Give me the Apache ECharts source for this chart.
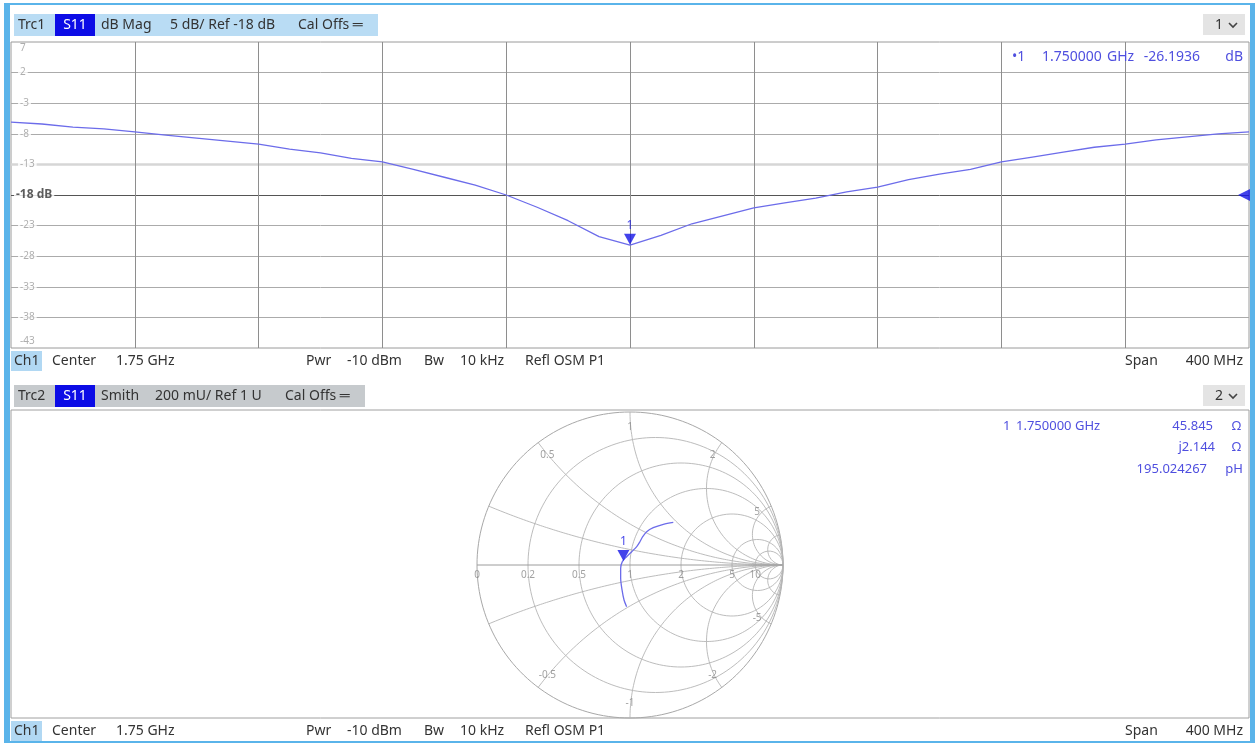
<!DOCTYPE html>
<html><head><meta charset="utf-8">
<script src="https://cdn.jsdelivr.net/npm/echarts@6/dist/echarts.min.js"></script>
<style>html,body{margin:0;padding:0;background:#fff}#c{width:1259px;height:746px}</style>
</head><body><div id="c"></div>
<script>
// ---- data ----
const freqMHz = [1550,1560,1570,1580,1590,1600,1610,1620,1630,1640,1650,1660,1670,1680,1690,1700,1710,1720,1730,1740,1750,1760,1770,1780,1790,1800,1810,1820,1830,1840,1850,1860,1870,1880,1890,1900,1910,1920,1930,1940,1950];
const s11dB = [-6.1,-6.4,-6.9,-7.2,-7.7,-8.2,-8.7,-9.2,-9.7,-10.5,-11.1,-12.0,-12.6,-13.8,-15.1,-16.4,-18.0,-20.0,-22.2,-24.8,-26.19,-24.6,-22.7,-21.4,-20.1,-19.3,-18.5,-17.5,-16.7,-15.5,-14.6,-13.8,-12.6,-11.8,-11.0,-10.2,-9.7,-9.0,-8.5,-8.0,-7.7];
const dbTicks = [7,2,-3,-8,-13,-18,-23,-28,-33,-38,-43];
const dbTickLabels = ['7','2','-3','-8','-13','-18 dB','-23','-28','-33','-38','-43'];
const refLevel = -18;
const freqGrid = [1590,1630,1670,1710,1750,1790,1830,1870,1910];
const markerFreq = 1750, markerDb = -26.1936;
// Smith trace, reflection coefficient (re, im)
const smithRe = [0.283,0.218,0.152,0.109,0.083,0.065,0.044,0.011,-0.022,-0.050,-0.061,-0.061,-0.052,-0.039,-0.022];
const smithIm = [0.279,0.266,0.244,0.218,0.185,0.152,0.120,0.087,0.054,0.022,-0.022,-0.087,-0.163,-0.229,-0.273];
const smithMarker = [-0.043, 0.023];
const rCircles = [0.2,0.5,1,2,5,10];
const xArcs = [0.2,0.5,1,2,5,10,-0.2,-0.5,-1,-2,-5,-10];
const rLabelVals = [0,0.2,0.5,1,2,5,10];
const rLabelTexts = ['0','0.2','0.5','1','2','5','10'];
const xLabelVals = [0.5,1,2,5,-0.5,-1,-2,-5];
const xLabelTexts = ['0.5','1','2','5','-0.5','-1','-2','-5'];

// ---- helpers ----
const FONT = '"Noto Sans", "Open Sans", sans-serif';
const TRACE = '#6c6cea';
const MARK = '#1414e6';
const READ = '#4f4fdf';
function gamma(r, x){ const d=(r+1)*(r+1)+x*x; return [(r*r-1+x*x)/d, 2*x/d]; }
function rCircle(r){ const c=r/(1+r), R=1/(1+r), p=[]; for(let i=0;i<=360;i+=2){const a=i*Math.PI/180; p.push([c+R*Math.cos(a), R*Math.sin(a)]);} return p; }
function xArc(x){ const p=[gamma(0,x)]; for(let k=-3;k<=3.0001;k+=0.02){p.push(gamma(Math.pow(10,k),x));} p.push([1,0]); return p; }

const series = [];
series.push({
  type:'line', xAxisIndex:0, yAxisIndex:0, name:'S11 dB',
  data: freqMHz.map((f,i)=>[f, s11dB[i]]),
  showSymbol:false, lineStyle:{color:TRACE, width:1.3}, z:5, animation:false,
  markLine:{silent:true, symbol:['none','none'], label:{show:false}, animation:false,
    data:[
      ...dbTicks.filter(v=>v!==dbTicks[0] && v!==dbTicks[dbTicks.length-1]).map(v=>({yAxis:v,
        lineStyle:{type:'solid', color: v===refLevel?'#555':(v===-13?'#d6d6d6':'#ababab'), width: v===-13?2.5:1}})),
      ...freqGrid.map(f=>({xAxis:f, lineStyle:{type:'solid', color:'#8e8e8e', width:1}}))
    ]}
});
series.push({
  type:'scatter', xAxisIndex:0, yAxisIndex:0, symbolSize:0, silent:true, z:6, animation:false,
  data: dbTicks.map((v,i)=>({value:[freqMHz[0], v],
    label:{offset:[v===refLevel?0:4, i===0?6:(i===dbTicks.length-1?-7:0)],
      color: v===refLevel?'#333':'#9a9a9a', fontSize: v===refLevel?12:10, fontWeight: v===refLevel?'bold':'normal'}})),
  label:{show:true, position:'right', distance:3, backgroundColor:'#fff', padding:[0,2],
    fontFamily:FONT, formatter:p=>dbTickLabels[p.dataIndex]}
});
series.push({
  type:'scatter', xAxisIndex:0, yAxisIndex:0, clip:false, z:7, animation:false,
  data:[[markerFreq, markerDb]], symbol:'triangle', symbolRotate:180, symbolSize:[12,11], symbolOffset:[0,-6],
  itemStyle:{color:MARK}, label:{show:true, position:'top', distance:2, formatter:'1', color:MARK, fontSize:12, fontFamily:FONT}
});
series.push({
  type:'scatter', xAxisIndex:0, yAxisIndex:0, clip:false, z:7, animation:false,
  data:[[freqMHz[freqMHz.length-1], refLevel]], symbol:'triangle', symbolRotate:90, symbolSize:[12,12], symbolOffset:[-5,0],
  itemStyle:{color:MARK}
});
// Smith grid
series.push({type:'line', xAxisIndex:1, yAxisIndex:1, data:rCircle(0), showSymbol:false, silent:true, clip:false, animation:false,
  lineStyle:{color:'#a8a8a8', width:1}, z:1});
rCircles.forEach(r=>series.push({type:'line', xAxisIndex:1, yAxisIndex:1, data:rCircle(r), showSymbol:false, silent:true, clip:false, animation:false,
  lineStyle:{color:'#b4b4b4', width:0.9}, z:1}));
xArcs.forEach(x=>series.push({type:'line', xAxisIndex:1, yAxisIndex:1, data:xArc(x), showSymbol:false, silent:true, clip:false, animation:false,
  lineStyle:{color:'#b4b4b4', width:0.9}, z:1}));
series.push({type:'line', xAxisIndex:1, yAxisIndex:1, data:[[-1,0],[1,0]], showSymbol:false, silent:true, clip:false, animation:false,
  lineStyle:{color:'#9c9c9c', width:1}, z:1});
series.push({type:'scatter', xAxisIndex:1, yAxisIndex:1, symbolSize:0, silent:true, animation:false, z:3,
  data:rLabelVals.map(r=>[(r-1)/(r+1), 0]),
  label:{show:true, position:'bottom', distance:5, color:'#8a8a8a', fontSize:10, fontFamily:FONT, formatter:p=>rLabelTexts[p.dataIndex]}});
series.push({type:'scatter', xAxisIndex:1, yAxisIndex:1, symbolSize:0, silent:true, animation:false, z:3,
  data:xLabelVals.map(x=>{const g=gamma(0,x); return [g[0]*0.9, g[1]*0.9];}),
  label:{show:true, position:'inside', color:'#8a8a8a', fontSize:10, fontFamily:FONT, formatter:p=>xLabelTexts[p.dataIndex]}});
series.push({type:'line', xAxisIndex:1, yAxisIndex:1, data:smithRe.map((v,i)=>[v, smithIm[i]]), showSymbol:false, smooth:0.3,
  lineStyle:{color:TRACE, width:1.3}, z:5, animation:false});
series.push({type:'scatter', xAxisIndex:1, yAxisIndex:1, clip:false, z:7, animation:false,
  data:[smithMarker], symbol:'triangle', symbolRotate:180, symbolSize:[12,11], symbolOffset:[0,-6],
  itemStyle:{color:MARK}, label:{show:true, position:'top', distance:2, formatter:'1', color:MARK, fontSize:12, fontFamily:FONT}});

// ---- chrome (headers, footers, readouts) ----
function txt(x,y,t,o){o=o||{}; return {type:'text', x:x, y:y, z:10, style:{text:t, fill:o.fill||'#333', font:(o.size||14)+'px '+FONT, textAlign:o.align||'left', textVerticalAlign:'middle'}};}
function rect(x,y,w,h,fill,z){return {type:'rect', z:z||0, shape:{x:x,y:y,width:w,height:h}, style:{fill:fill}};}
function chevron(x,y){return {type:'polyline', z:10, shape:{points:[[x,y-2],[x+4,y+2],[x+8,y-2]]}, style:{stroke:'#444', lineWidth:1.6, fill:null}};}
function footer(y){return [
  rect(11,y-10,31,20,'#b1d8f3'), txt(14,y,'Ch1'),
  txt(52,y,'Center'), txt(116,y,'1.75 GHz'),
  txt(306,y,'Pwr'), txt(347,y,'-10 dBm'), txt(424,y,'Bw'), txt(460,y,'10 kHz'), txt(525,y,'Refl OSM P1'),
  txt(1125,y,'Span'), txt(1243,y,'400 MHz',{align:'right'})
];}
const S = 13;
const graphic = [
  rect(4,3,1251,2,'#5ab4ea'), rect(4,3,6,740,'#5ab4ea'), rect(1250,3,5,740,'#5ab4ea'), rect(4,741,1251,2,'#5ab4ea'),
  rect(14,14,364,22,'#b9dcf4'), rect(55,14,40,22,'#0c0ce6',1),
  txt(18,25,'Trc1'), txt(75,25,'S11',{fill:'#fff',align:'center'}), txt(101,25,'dB Mag'), txt(170,25,'5 dB/ Ref -18 dB'), txt(298,25,'Cal Offs ═'),
  rect(1203,14,42,21,'#e4e4e4'), txt(1223,25,'1',{align:'right'}), chevron(1229,25),
  ...footer(361),
  rect(14,385,351,22,'#c6cacd'), rect(55,385,40,22,'#0c0ce6',1),
  txt(18,396,'Trc2'), txt(75,396,'S11',{fill:'#fff',align:'center'}), txt(101,396,'Smith'), txt(155,396,'200 mU/ Ref 1 U'), txt(285,396,'Cal Offs ═'),
  rect(1203,385,42,21,'#e4e4e4'), txt(1223,396,'2',{align:'right'}), chevron(1229,396),
  {type:'rect', z:0, shape:{x:11,y:410,width:1238,height:308}, style:{fill:'none', stroke:'#a0a0a0', lineWidth:1}},
  ...footer(731),
  txt(1012,57,'•1',{fill:READ}), txt(1042,57,'1.750000',{fill:READ}), txt(1107,57,'GHz',{fill:READ}),
  txt(1200,57,'-26.1936',{fill:READ,align:'right'}), txt(1243,57,'dB',{fill:READ,align:'right'}),
  txt(1003,426,'1',{fill:READ,size:S}), txt(1016,426,'1.750000',{fill:READ,size:S}), txt(1075,426,'GHz',{fill:READ,size:S}),
  txt(1213,426,'45.845',{fill:READ,align:'right',size:S}), txt(1241,426,'Ω',{fill:READ,align:'right',size:S}),
  txt(1215,447,'j2.144',{fill:READ,align:'right',size:S}), txt(1241,447,'Ω',{fill:READ,align:'right',size:S}),
  txt(1207,469,'195.024267',{fill:READ,align:'right',size:S}), txt(1243,469,'pH',{fill:READ,align:'right',size:S})
];

const chart = echarts.init(document.getElementById('c'));
chart.setOption({
  animation:false,
  backgroundColor:'#fff',
  grid:[
    {left:11, top:42, width:1238, height:306, show:true, borderColor:'#9a9a9a', borderWidth:1, backgroundColor:'transparent'},
    {left:477, top:412, width:306, height:306, show:false}
  ],
  xAxis:[
    {type:'value', gridIndex:0, min:freqMHz[0], max:freqMHz[freqMHz.length-1], show:false, splitLine:{show:false}},
    {type:'value', gridIndex:1, min:-1, max:1, show:false, splitLine:{show:false}}
  ],
  yAxis:[
    {type:'value', gridIndex:0, min:dbTicks[dbTicks.length-1], max:dbTicks[0], show:false, splitLine:{show:false}},
    {type:'value', gridIndex:1, min:-1, max:1, show:false, splitLine:{show:false}}
  ],
  series:series,
  graphic:graphic
});
</script>
</body></html>
